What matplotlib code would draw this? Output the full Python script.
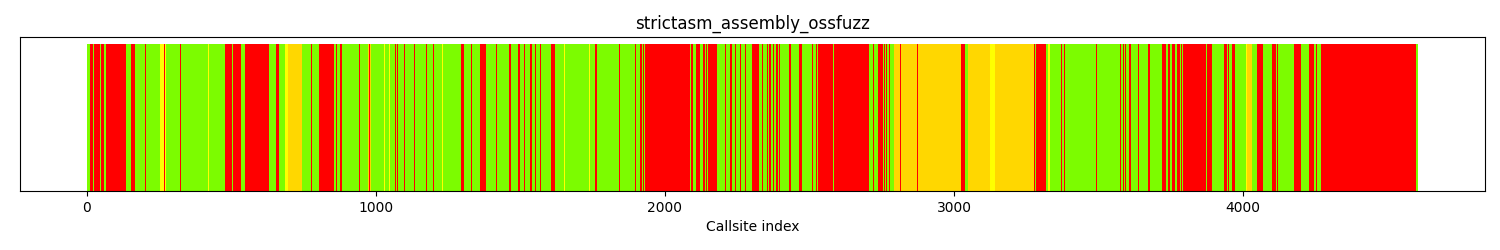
"""
Callsite coverage strip for strictasm_assembly_ossfuzz.
Colour of each callsite is stored as runs: (start index, colour code).
"""

import numpy as np
import matplotlib
matplotlib.use("Agg")
import matplotlib.pyplot as plt

TITLE = "strictasm_assembly_ossfuzz"
N_CALLSITES = 4607

# colour codes: r = not hit, o = few hits, y = some hits, g = well covered
COLOR_MAP = {"r": "red", "o": "gold", "y": "yellow", "g": "lawngreen"}

run_starts = [
    0, 13, 24, 27, 47, 49, 59, 68, 137, 155, 168, 203, 206, 232, 235,
    255, 268, 270, 275, 324, 327, 370, 373, 420, 422, 437, 439, 479, 502,
    506, 533, 548, 631, 640, 643, 654, 665, 686, 698, 744,
    776, 779, 805, 857, 862, 865, 878, 884, 943, 946, 955, 958,
    972, 977, 979, 983, 986, 989, 1028, 1031, 1047, 1050, 1067, 1070,
    1074, 1077, 1099, 1102, 1133, 1136,
    1175, 1178, 1200, 1203, 1222, 1224, 1230, 1232, 1296, 1304, 1331, 1334,
    1362, 1383, 1418, 1421, 1461, 1469, 1492, 1500, 1512, 1515, 1533, 1540,
    1551, 1556, 1568, 1571, 1606, 1622, 1653, 1656, 1738, 1741, 1760, 1765,
    1842, 1845, 1897, 1900, 1906, 1909, 1914, 1922, 1924, 1930, 1932,
    2088, 2091, 2093, 2096, 2098, 2109, 2123, 2132, 2140, 2144, 2146, 2148,
    2180, 2209, 2212, 2221, 2224, 2226, 2233, 2244, 2247, 2261, 2264,
    2279, 2282, 2303, 2315, 2317, 2326, 2336, 2340, 2349, 2352, 2354, 2358,
    2360, 2369, 2374, 2379, 2381, 2383, 2386, 2393, 2395, 2397,
    2430, 2437, 2465, 2474, 2509, 2513, 2522, 2525, 2529, 2583, 2585,
    2708, 2709, 2711, 2719, 2725, 2737, 2740, 2742, 2754, 2760, 2763,
    2765, 2769, 2777, 2780, 2794, 2815, 2817, 2858, 2860, 2873, 2876,
    3025, 3039, 3048, 3124, 3142, 3276, 3280, 3283, 3320, 3326, 3334,
    3360, 3362, 3370, 3373, 3380, 3383, 3491, 3494,
    3575, 3577, 3580, 3582, 3585, 3587, 3592, 3595, 3606, 3613,
    3638, 3640, 3650, 3652, 3673, 3679, 3721, 3733, 3736, 3738,
    3742, 3748, 3754, 3764, 3771, 3782, 3786, 3788, 3794,
    3873, 3876, 3893, 3934, 3946, 3948, 3951, 3963, 3971,
    4009, 4015, 4032, 4049, 4070, 4099, 4116, 4118, 4120,
    4178, 4201, 4229, 4246, 4254, 4256, 4258, 4260, 4270, 4272, 4273,
    4598, 4605,
]

run_colors = [
    "g", "r", "g", "r", "g", "r", "g", "r", "g", "r", "g", "r", "g", "r", "g",
    "y", "r", "y", "g", "r", "g", "r", "g", "y", "g", "y", "g", "r", "g",
    "r", "g", "r", "g", "r", "g", "r", "g", "y", "o", "g",
    "r", "g", "r", "g", "r", "g", "r", "g", "r", "g", "r", "g",
    "o", "r", "o", "g", "r", "g", "y", "g", "y", "g", "r", "g",
    "r", "g", "r", "g", "r", "g",
    "r", "g", "r", "g", "y", "g", "y", "g", "r", "g", "r", "g",
    "r", "g", "r", "g", "r", "g", "r", "g", "r", "g", "r", "g",
    "r", "g", "r", "g", "r", "g", "y", "g", "y", "g", "r", "g",
    "r", "g", "r", "g", "r", "g", "r", "g", "r", "g", "r",
    "g", "r", "g", "r", "g", "r", "g", "r", "g", "r", "g", "r",
    "g", "r", "g", "r", "g", "r", "g", "r", "g", "r", "g",
    "r", "g", "r", "g", "r", "g", "r", "g", "r", "g", "r", "g",
    "r", "g", "r", "g", "r", "g", "r", "g", "r", "g",
    "r", "g", "r", "g", "r", "g", "r", "g", "r", "g", "r",
    "g", "r", "g", "r", "g", "r", "g", "r", "g", "r", "g",
    "r", "g", "r", "g", "o", "r", "o", "r", "o", "r", "o",
    "r", "g", "o", "y", "o", "r", "g", "r", "g", "y", "g",
    "r", "g", "r", "g", "r", "g", "r", "g",
    "r", "g", "r", "g", "r", "g", "r", "g", "r", "g",
    "r", "g", "r", "g", "r", "g", "r", "g", "r", "g",
    "r", "g", "r", "g", "r", "g", "r", "g", "r",
    "g", "r", "g", "r", "g", "r", "g", "r", "g",
    "y", "o", "g", "r", "g", "r", "g", "r", "g",
    "r", "g", "r", "g", "r", "g", "r", "g", "r", "g", "r",
    "g", "r",
]


def expand_runs(starts, codes, n):
    """Turn run-length colour data into one colour per callsite."""
    ends = list(starts[1:]) + [n]
    out = []
    for s, e, c in zip(starts, ends, codes):
        out.extend([COLOR_MAP[c]] * (e - s))
    return out


colors = expand_runs(run_starts, run_colors, N_CALLSITES)
x = np.arange(N_CALLSITES)
heights = np.ones(N_CALLSITES)

fig, ax = plt.subplots(figsize=(15, 2.5), dpi=100)
ax.bar(x, heights, width=1, color=colors, linewidth=0)
ax.set_title(TITLE)
ax.set_xlabel("Callsite index")
ax.set_yticks([])
fig.subplots_adjust(left=0.0133, right=0.99, top=0.852, bottom=0.236)
fig.savefig("out.png", dpi=100)
